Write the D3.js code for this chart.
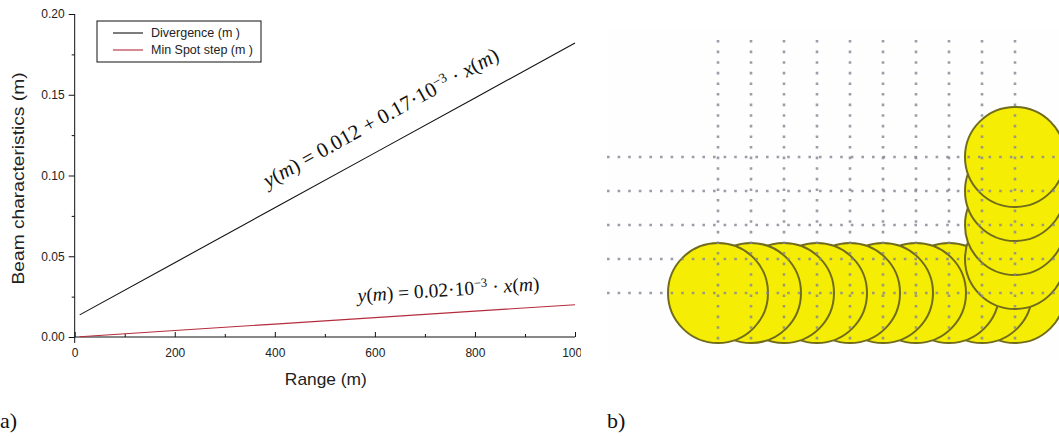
<!DOCTYPE html>
<html><head><meta charset="utf-8">
<script src="https://cdn.jsdelivr.net/npm/d3@7/dist/d3.min.js"></script>
<style>body{margin:0;background:#fff} svg{display:block}</style>
</head><body>
<svg id="c" width="1059" height="436"></svg>
<script>
// ---- panel a) data ----
const rangeX = [10, 200, 400, 600, 800, 1000];
const divergence = [0.0137, 0.046, 0.080, 0.114, 0.148, 0.182];
const minSpot = [0.0002, 0.004, 0.008, 0.012, 0.016, 0.020];
const seriesNames = ["Divergence (m )", "Min Spot step (m )"];
const xTicks = [0, 200, 400, 600, 800, 1000];
const xTickLabels = ["0", "200", "400", "600", "800", "1000"];
const xMinor = [100, 300, 500, 700, 900];
const yTicks = [0, 0.05, 0.10, 0.15, 0.20];
const yTickLabels = ["0.00", "0.05", "0.10", "0.15", "0.20"];
const yMinor = [0.025, 0.075, 0.125, 0.175];
const xTitle = "Range (m)";
const yTitle = "Beam characteristics (m)";
// ---- panel b) data (grid units) ----
const gridCols = [0, 1, 2, 3, 4, 5, 6, 7, 8, 9];
const gridRows = [0, 1, 2, 3, 4];
const rowCircleCols = [0, 1, 2, 3, 4, 5, 6, 7, 8, 9];   // circles along bottom row
const stackCircleRows = [3, 2, 1, 0];                    // circles stacked in last column

const svg = d3.select("#c");
svg.append("rect").attr("width", 1059).attr("height", 436).attr("fill", "#fff");
const SANS = "'Liberation Sans', Arial, sans-serif";
const SERIF = "'Liberation Serif', 'Times New Roman', serif";

// ===== Panel a =====
const x = d3.scaleLinear().domain([0, 1000]).range([74.7, 575]);
const y = d3.scaleLinear().domain([0, 0.2]).range([337, 14]);

const defs = svg.append("defs");
defs.append("clipPath").attr("id", "clipA").append("rect")
  .attr("x", 0).attr("y", 0).attr("width", 581).attr("height", 436);

const gA = svg.append("g").attr("clip-path", "url(#clipA)");

// y axis
const yAxis = gA.append("g").attr("transform", `translate(${x(0)},0)`)
  .call(d3.axisLeft(y).tickValues(yTicks).tickFormat((d, i) => yTickLabels[i])
    .tickSizeInner(6).tickSizeOuter(0).tickPadding(4));
yAxis.select(".domain").remove();
yAxis.selectAll("text").attr("font-family", SANS).attr("font-size", 12).attr("fill", "#222");
yAxis.selectAll("line").attr("stroke", "#111");
gA.append("g").attr("transform", `translate(${x(0)},0)`)
  .call(d3.axisLeft(y).tickValues(yMinor).tickFormat("").tickSizeInner(3).tickSizeOuter(0))
  .call(g => g.select(".domain").remove())
  .selectAll("line").attr("stroke", "#111");
gA.append("line").attr("x1", x(0)).attr("x2", x(0)).attr("y1", y(0.2)).attr("y2", y(0) + 6)
  .attr("stroke", "#111");

// x axis
const xAxis = gA.append("g").attr("transform", `translate(0,${y(0)})`)
  .call(d3.axisBottom(x).tickValues(xTicks).tickFormat((d, i) => xTickLabels[i])
    .tickSizeInner(-5).tickSizeOuter(0).tickPadding(11));
xAxis.select(".domain").remove();
xAxis.selectAll("text").attr("font-family", SANS).attr("font-size", 12).attr("fill", "#222");
xAxis.selectAll("line").attr("stroke", "#111");
gA.append("g").attr("transform", `translate(0,${y(0)})`)
  .call(d3.axisBottom(x).tickValues(xMinor).tickFormat("").tickSizeInner(-3).tickSizeOuter(0))
  .call(g => g.select(".domain").remove())
  .selectAll("line").attr("stroke", "#111");
gA.append("line").attr("x1", x(0)).attr("x2", x(1000)).attr("y1", y(0)).attr("y2", y(0))
  .attr("stroke", "#111");

// titles
svg.append("text").attr("x", (x(0) + x(1000)) / 2 + 1).attr("y", 385).attr("text-anchor", "middle")
  .attr("font-family", SANS).attr("font-size", 17).attr("fill", "#222")
  .attr("textLength", 82).attr("lengthAdjust", "spacingAndGlyphs").text(xTitle);
svg.append("text").attr("transform", `translate(24,${(y(0) + y(0.2)) / 2 + 3}) rotate(-90)`)
  .attr("text-anchor", "middle").attr("font-family", SANS).attr("font-size", 17).attr("fill", "#222")
  .attr("textLength", 212).attr("lengthAdjust", "spacingAndGlyphs").text(yTitle);

// lines
const colors = ["#111111", "#b52c3c"];
const seriesData = [divergence, minSpot];
const line = d3.line().x(d => x(d[0])).y(d => y(d[1]));
seriesData.forEach((s, k) => {
  svg.append("path").datum(rangeX.map((v, i) => [v, s[i]]))
    .attr("d", line).attr("fill", "none").attr("stroke", colors[k]).attr("stroke-width", 1.1);
});

// legend
const leg = svg.append("g");
leg.append("rect").attr("x", 97).attr("y", 21).attr("width", 164).attr("height", 41)
  .attr("fill", "#fff").attr("stroke", "#111").attr("stroke-width", 1);
const legW = [89, 102];
seriesNames.forEach((n, k) => {
  const yy = 33 + k * 17;
  leg.append("line").attr("x1", 113).attr("x2", 143).attr("y1", yy).attr("y2", yy)
    .attr("stroke", colors[k]).attr("stroke-width", 1.1);
  leg.append("text").attr("x", 151).attr("y", yy + 4).attr("font-family", SANS)
    .attr("font-size", 12).attr("fill", "#222")
    .attr("textLength", legW[k]).attr("lengthAdjust", "spacingAndGlyphs").text(n);
});

// equations
function eq(g, parts) {
  const t = g.append("text").attr("font-family", SERIF).attr("fill", "#111");
  parts.forEach(p => {
    const ts = t.append("tspan").text(p.t);
    if (p.i) ts.attr("font-style", "italic");
    if (p.sup) ts.attr("baseline-shift", "super").attr("font-size", "0.65em");
  });
  return t;
}
const eq1 = svg.append("g").attr("transform", "translate(268,188) rotate(-29)");
eq(eq1, [{t: "y", i: 1}, {t: "("}, {t: "m", i: 1}, {t: ") = 0.012 + 0.17·10"},
  {t: "−3", sup: 1}, {t: "  · "}, {t: "x", i: 1}, {t: "("}, {t: "m", i: 1}, {t: ")"}])
  .attr("font-size", 21);
const eq2 = svg.append("g").attr("transform", "translate(358,302) rotate(-3.7)");
eq(eq2, [{t: "y", i: 1}, {t: "("}, {t: "m", i: 1}, {t: ") = 0.02·10"},
  {t: "−3", sup: 1}, {t: " · "}, {t: "x", i: 1}, {t: "("}, {t: "m", i: 1}, {t: ")"}])
  .attr("font-size", 19.5);

// panel labels
svg.append("text").attr("x", 0).attr("y", 428).attr("font-family", SERIF).attr("font-size", 22)
  .attr("fill", "#111").text("a)");
svg.append("text").attr("x", 607).attr("y", 428).attr("font-family", SERIF).attr("font-size", 22)
  .attr("fill", "#111").text("b)");

// ===== Panel b =====
const cx = d3.scaleLinear().domain([0, 9]).range([718, 1015]);
const cy = d3.scaleLinear().domain([0, 4]).range([157, 293]);
const R = 50;
const gB = svg.append("g");
gB.append("rect").attr("x", 607).attr("y", 30).attr("width", 452).attr("height", 330).attr("fill", "#fefefe");
const circStyle = s => s.attr("r", R).attr("fill", "#f5ee04").attr("stroke", "#716c1c").attr("stroke-width", 2);
// bottom row, drawn right to left so left circles sit on top
gB.selectAll("circle.row").data(rowCircleCols.slice().reverse()).join("circle")
  .attr("class", "row").attr("cx", d => cx(d)).attr("cy", cy(4)).call(circStyle);
// stack in last column, top circle drawn last
gB.selectAll("circle.stack").data(stackCircleRows).join("circle")
  .attr("class", "stack").attr("cx", cx(9)).attr("cy", d => cy(d)).call(circStyle);
// dotted grid on top
const dot = s => s.attr("stroke", "#868696").attr("stroke-width", 2.6)
  .attr("stroke-dasharray", "2.6,8").attr("opacity", 0.8);
gB.selectAll("line.h").data(gridRows).join("line").attr("class", "h")
  .attr("x1", 607).attr("x2", 1059).attr("y1", d => cy(d)).attr("y2", d => cy(d)).call(dot);
gB.selectAll("line.v").data(gridCols).join("line").attr("class", "v")
  .attr("x1", d => cx(d)).attr("x2", d => cx(d)).attr("y1", 40).attr("y2", 345).call(dot);
</script>
</body></html>
